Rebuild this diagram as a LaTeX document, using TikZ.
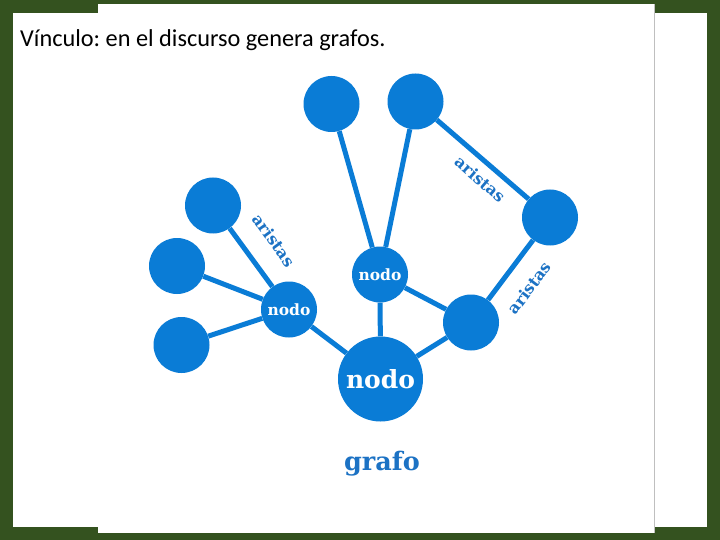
\documentclass[tikz,border=0pt]{standalone}
\usepackage{fontspec}
\setmainfont{Carlito}
\newfontfamily\slab{DejaVu Serif}
\definecolor{bggreen}{HTML}{34521F}
\definecolor{nblue}{HTML}{0A7CD6}
\definecolor{tblue}{HTML}{1C72C4}
\frenchspacing
\begin{document}
\begin{tikzpicture}[x=1pt,y=-1pt,
  vertex/.style={circle, fill=nblue, minimum size=56pt, inner sep=0pt, text=white,
    font=\slab\bfseries\fontsize{15.5}{15.5}\selectfont},
  hub/.style={vertex, minimum size=85pt, font=\slab\bfseries\fontsize{25}{25}\selectfont},
  edge/.style={draw=nblue, line width=5pt},
  elabel/.style={sloped, inner sep=0pt, text=tblue, font=\slab\bfseries\fontsize{16}{16}\selectfont}
]
\useasboundingbox (0,0) rectangle (720,540);
\fill[bggreen] (0,0) rectangle (720,540);
\fill[white] (13,13) rectangle (707,527);
\fill[white] (98,4) rectangle (654,533);
\draw[black!25, line width=1pt] (654.5,4) -- (654.5,533);
\node[anchor=base west, inner sep=0pt, font=\fontsize{24.3}{24.3}\selectfont] (title) at (20,46.5) {Vínculo: en el discurso genera grafos.};
% nodes
\node[vertex] (t1) at (331.5,104) {};
\node[vertex] (t2) at (415.5,101.5) {};
\node[vertex] (r1) at (550,217.5) {};
\node[vertex] (lt) at (213,205.5) {};
\node[vertex] (lm) at (177,266) {};
\node[vertex] (ll) at (181.5,345) {};
\node[vertex] (nl) at (289,309.5) {nodo};
\node[vertex] (nm) at (380,274.5) {nodo};
\node[vertex] (rb) at (471,322.5) {};
\node[hub] (hub) at (380.5,379) {nodo};
\node[anchor=center, inner sep=0pt, text=tblue, font=\slab\bfseries\fontsize{25.5}{25.5}\selectfont] (grafo) at (382,464) {grafo};
% edges
\draw[edge] (t1) -- (nm);
\draw[edge] (t2) -- (nm);
\draw[edge] (t2) -- node[elabel, pos=0.59, below=8pt] (l1) {aristas} (r1);
\draw[edge] (r1) -- node[elabel, pos=0.54, below=17pt] (l2) {aristas} (rb);
\draw[edge] (lt) -- node[elabel, pos=0.5, above=20pt] (l3) {aristas} (nl);
\draw[edge] (lm) -- (nl);
\draw[edge] (ll) -- (nl);
\draw[edge] (nl) -- (hub);
\draw[edge] (nm) -- (hub);
\draw[edge] (nm) -- (rb);
\draw[edge] (rb) -- (hub);
\end{tikzpicture}
\end{document}
